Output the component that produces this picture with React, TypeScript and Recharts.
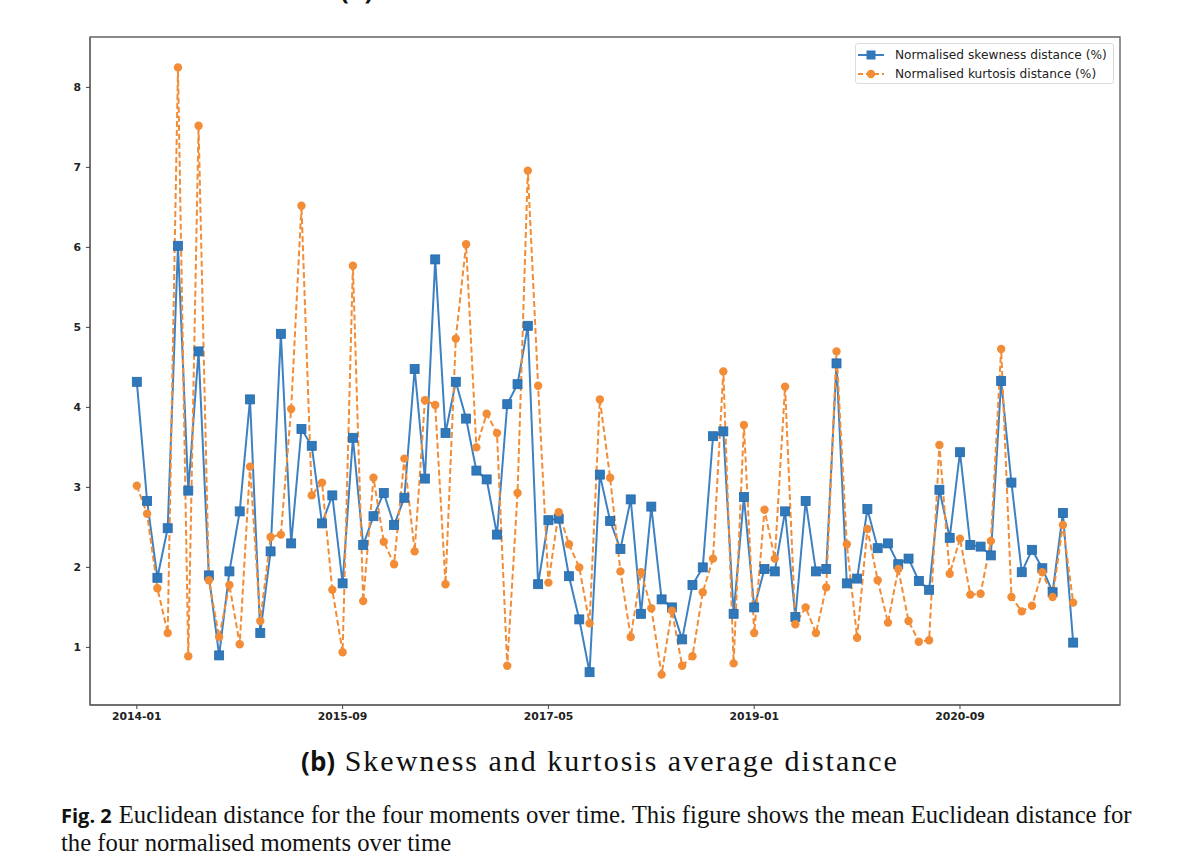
import React from "react"
import { LineChart, Line, XAxis, YAxis, ReferenceArea } from "recharts"

// monthly points, 2014-01 .. 2021-08
const startYear = 2014
const skewness = [
  4.32, 2.83, 1.87, 2.49, 6.02, 2.96, 4.7, 1.9, 0.9, 1.95, 2.7, 4.1,
  1.18, 2.2, 4.92, 2.3, 3.73, 3.52, 2.55, 2.9, 1.8, 3.62, 2.28, 2.64,
  2.93, 2.53, 2.87, 4.48, 3.11, 5.85, 3.68, 4.32, 3.86, 3.21, 3.1, 2.41,
  4.04, 4.29, 5.02, 1.79, 2.59, 2.61, 1.89, 1.35, 0.69, 3.16, 2.58, 2.23,
  2.85, 1.42, 2.76, 1.6, 1.5, 1.1, 1.78, 2.0, 3.64, 3.7, 1.42, 2.88,
  1.5, 1.98, 1.95, 2.7, 1.38, 2.83, 1.95, 1.98, 4.55, 1.8, 1.86, 2.73,
  2.24, 2.3, 2.04, 2.11, 1.83, 1.72, 2.97, 2.37, 3.44, 2.28, 2.26, 2.15,
  4.33, 3.06, 1.94, 2.22, 1.99, 1.69, 2.68, 1.06,
]
const kurtosis = [
  3.02, 2.67, 1.74, 1.18, 8.25, 0.89, 7.52, 1.84, 1.13, 1.78, 1.04, 3.26,
  1.33, 2.38, 2.41, 3.98, 6.52, 2.9, 3.06, 1.72, 0.94, 5.77, 1.58, 3.12,
  2.32, 2.04, 3.36, 2.2, 4.09, 4.03, 1.79, 4.86, 6.04, 3.5, 3.92, 3.68,
  0.77, 2.93, 6.96, 4.27, 1.81, 2.69, 2.29, 2.0, 1.3, 4.1, 3.12, 1.95,
  1.13, 1.94, 1.49, 0.66, 1.46, 0.77, 0.89, 1.69, 2.11, 4.45, 0.8, 3.78,
  1.18, 2.72, 2.11, 4.26, 1.29, 1.5, 1.18, 1.75, 4.7, 2.29, 1.12, 2.48,
  1.84, 1.31, 1.98, 1.33, 1.07, 1.09, 3.53, 1.92, 2.36, 1.66, 1.67, 2.33,
  4.73, 1.63, 1.45, 1.52, 1.94, 1.63, 2.53, 1.56,
]
const xTicks = [0, 20, 40, 60, 80]
const yTicks = [1, 2, 3, 4, 5, 6, 7, 8]
const seriesNames = ["Normalised skewness distance (%)", "Normalised kurtosis distance (%)"]

const BLUE = "#2f78b9"
const BLUE_LINE = "#3d81c2"
const ORANGE = "#f28c36"
const FRAME = "#666"

const monthLabel = (i: number) => {
  const y = startYear + Math.floor(i / 12)
  const m = (i % 12) + 1
  return `${y}-${m < 10 ? "0" + m : m}`
}

const data = skewness.map((s, i) => ({ i, skew: s, kurt: kurtosis[i] }))

const xDomain = [-4.55, 95.55]
const yDomain = [0.28, 8.63]

const tickStyle = { fontFamily: "DejaVu Sans", fontSize: 10.8, fontWeight: 700, fill: "#222" }

function SquareDot(props: any) {
  const { cx, cy, index } = props
  if (cx == null || cy == null) return null
  return <rect key={`sq-${index}`} x={cx - 4.5} y={cy - 4.5} width={9} height={9} fill={BLUE} stroke="#2769aa" strokeWidth={0.8} />
}

function RoundDot(props: any) {
  const { cx, cy, index } = props
  if (cx == null || cy == null) return null
  return <circle key={`ci-${index}`} cx={cx} cy={cy} r={4.2} fill={ORANGE} stroke="none" />
}

function LegendBox() {
  return (
    <div
      style={{
        position: "absolute",
        left: 855,
        top: 43,
        width: 259,
        height: 41,
        border: "1px solid #ddd",
        borderRadius: 3,
        background: "rgba(255,255,255,0.85)",
        fontFamily: "DejaVu Sans",
        fontSize: 12.2,
        color: "#222",
        boxSizing: "border-box",
        padding: "1px 0 0 1px",
      }}
    >
      {seriesNames.map((name, k) => (
        <div key={name} style={{ display: "flex", alignItems: "center", height: 19 }}>
          <svg width={28} height={12} style={{ marginRight: 10 }}>
            <line x1={1} x2={27} y1={6} y2={6} stroke={k === 0 ? BLUE_LINE : ORANGE} strokeWidth={2} strokeDasharray={k === 0 ? undefined : "5 3"} />
            {k === 0 ? (
              <rect x={9.5} y={1.5} width={9} height={9} fill={BLUE} />
            ) : (
              <circle cx={14} cy={6} r={4.2} fill={ORANGE} />
            )}
          </svg>
          <span>{name}</span>
        </div>
      ))}
    </div>
  )
}

export default function App() {
  return (
    <div style={{ position: "absolute", left: 0, top: 0, width: 1200, height: 860, background: "#fff", overflow: "hidden" }}>
      <div
        style={{
          position: "absolute",
          left: 340,
          top: -29,
          fontFamily: "Open Sans",
          fontWeight: 700,
          fontSize: 26,
          color: "#111",
        }}
      >
        (a)
      </div>
      <div style={{ position: "absolute", left: 0, top: 0 }}>
        <LineChart width={1200} height={740} data={data} margin={{ top: 37, right: 80, bottom: 5, left: 0 }}>
          <XAxis
            dataKey="i"
            type="number"
            domain={xDomain}
            ticks={xTicks}
            tickFormatter={monthLabel}
            height={30}
            tick={tickStyle}
            tickSize={4}
            tickMargin={3}
            axisLine={{ stroke: FRAME, strokeWidth: 1.4 }}
            tickLine={{ stroke: "#444", strokeWidth: 1 }}
            allowDataOverflow
          />
          <YAxis
            type="number"
            domain={yDomain}
            ticks={yTicks}
            width={90}
            tick={tickStyle}
            tickSize={4}
            tickMargin={5}
            axisLine={{ stroke: FRAME, strokeWidth: 1.4 }}
            tickLine={{ stroke: "#444", strokeWidth: 1 }}
            allowDataOverflow
          />
          <ReferenceArea
            x1={xDomain[0]}
            x2={xDomain[1]}
            y1={yDomain[0]}
            y2={yDomain[1]}
            fill="none"
            fillOpacity={0}
            stroke={FRAME}
            strokeWidth={1.4}
            ifOverflow="visible"
          />
          <Line
            dataKey="skew"
            name={seriesNames[0]}
            stroke={BLUE_LINE}
            strokeWidth={2}
            dot={SquareDot}
            activeDot={false}
            isAnimationActive={false}
          />
          <Line
            dataKey="kurt"
            name={seriesNames[1]}
            stroke={ORANGE}
            strokeWidth={2}
            strokeDasharray="6 3"
            dot={RoundDot}
            activeDot={false}
            isAnimationActive={false}
          />
        </LineChart>
      </div>
      <LegendBox />
      <div
        style={{
          position: "absolute",
          left: 0,
          width: 1200,
          top: 744,
          textAlign: "center",
          lineHeight: "34px",
          whiteSpace: "nowrap",
          color: "#111",
        }}
      >
        <span style={{ fontFamily: "Open Sans", fontWeight: 700, fontSize: 26 }}>(b)</span>
        <span style={{ fontFamily: "Liberation Serif", fontSize: 30, letterSpacing: 2 }}> Skewness and kurtosis average distance</span>
      </div>
      <div
        style={{
          position: "absolute",
          left: 61,
          top: 802,
          lineHeight: "26px",
          whiteSpace: "nowrap",
          color: "#111",
        }}
      >
        <span style={{ fontFamily: "Open Sans", fontWeight: 700, fontSize: 20, marginRight: 7 }}>Fig. 2</span>
        <span style={{ fontFamily: "Liberation Serif", fontSize: 24.7 }}>
          Euclidean distance for the four moments over time. This figure shows the mean Euclidean distance for
        </span>
      </div>
      <div
        style={{
          position: "absolute",
          left: 61,
          top: 830,
          lineHeight: "26px",
          whiteSpace: "nowrap",
          color: "#111",
          fontFamily: "Liberation Serif",
          fontSize: 24.7,
        }}
      >
        the four normalised moments over time
      </div>
    </div>
  )
}
